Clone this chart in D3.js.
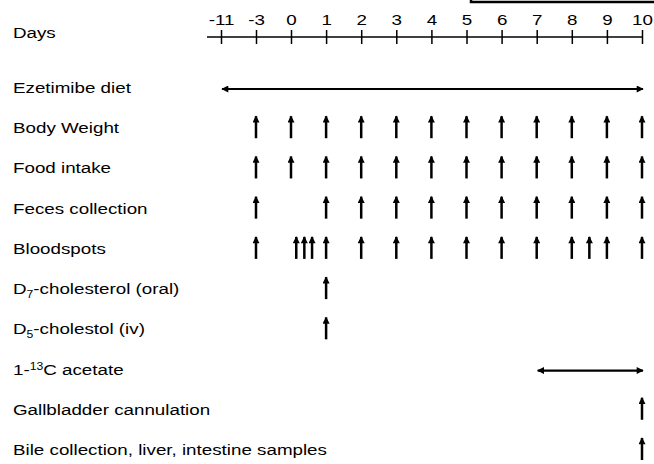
<!DOCTYPE html>
<html>
<head>
<meta charset="utf-8">
<script src="https://cdn.jsdelivr.net/npm/d3@7"></script>
<style>
  body { margin: 0; background: #fff; }
  svg { display: block; }
</style>
</head>
<body>
<div id="container"></div>
<script>
/* Jours affichés sur l'axe */
const days = [-11, -3, 0, 1, 2, 3, 4, 5, 6, 7, 8, 9, 10];

/* Libellés des lignes */
const rowLabels = ["Ezetimibe diet", "Body Weight", "Food intake", "Feces collection", "Bloodspots",
  "D7-cholesterol (oral)", "D5-cholestol (iv)", "1-13C acetate", "Gallbladder cannulation",
  "Bile collection, liver, intestine samples"];

/* Jours avec une flèche par ligne */
const bodyWeightDays = [-3, 0, 1, 2, 3, 4, 5, 6, 7, 8, 9, 10];
const foodIntakeDays = [-3, 0, 1, 2, 3, 4, 5, 6, 7, 8, 9, 10];
const fecesDays = [-3, 1, 2, 3, 4, 5, 6, 7, 8, 9, 10];
const bloodspotDays = [-3, 0.15, 0.38, 0.6, 1, 2, 3, 4, 5, 6, 7, 8, 8.5, 9, 10];
const d7Days = [1];
const d5Days = [1];
const gallbladderDays = [10];
const bileDays = [10];

/* Périodes (flèches doubles) */
const ezetimibeSpan = [-11, 10];
const acetateSpan = [7, 10];

const width = 654, height = 464,
  fontPolice = "'Liberation Sans', Arial, sans-serif",
  fontSize = 15.4,
  /* l'image d'origine est étirée en largeur */
  stretch = "scale(1.22,1)",
  axisY = 37;

const svg = d3.select("#container").append("svg")
  .attr("width", width)
  .attr("height", height);

/* Marqueur des pointes de flèches */
const defs = svg.append("defs");
defs.append("marker")
  .attr("id", "head")
  .attr("viewBox", "0 0 10 10")
  .attr("refX", 9).attr("refY", 5)
  .attr("markerUnits", "userSpaceOnUse")
  .attr("markerWidth", 8).attr("markerHeight", 7)
  .attr("orient", "auto-start-reverse")
  .append("path").attr("d", "M0,0 L10,5 L0,10 Z").attr("fill", "#000");

/* Échelle x par morceaux : les jours ne sont pas espacés régulièrement */
const x = d3.scaleLinear()
  .domain([-11, -3, 0, 10])
  .range([221, 256, 291, 642]);

const y = d3.scalePoint()
  .domain(rowLabels)
  .range([88, 450]);

/* Cadre coupé en haut à droite */
svg.append("rect")
  .attr("x", 471).attr("y", -20)
  .attr("width", 200).attr("height", 22)
  .attr("fill", "none").attr("stroke", "#000").attr("stroke-width", 2.5);

/* Axe des jours */
svg.append("text")
  .attr("transform", "translate(13," + (axisY + 1) + ")" + stretch)
  .style("font-family", fontPolice).style("font-size", fontSize + "px")
  .text("Days");

const axis = svg.append("g")
  .attr("transform", "translate(0," + axisY + ")")
  .call(d3.axisTop(x).tickValues(days).tickFormat(function (d) { return String(d); }).tickSizeOuter(0));
axis.select(".domain").remove();
axis.append("line")
  .attr("x1", 207).attr("x2", x(10))
  .attr("stroke", "#000").attr("stroke-width", 1.5);
axis.selectAll(".tick line").attr("y1", -7).attr("y2", 7).attr("stroke-width", 1.5);
axis.selectAll(".tick text")
  .attr("y", -12)
  .attr("dy", 0)
  .attr("transform", stretch)
  .attr("fill", "#000")
  .style("font-family", fontPolice).style("font-size", fontSize + "px");

/* Libellés des lignes */
const labels = svg.append("g")
  .style("font-family", fontPolice).style("font-size", fontSize + "px");

function addLabel(label, parts) {
  const t = labels.append("text")
    .attr("transform", "translate(13," + (y(label) + 5) + ")" + stretch);
  parts.forEach(function (p) {
    const s = t.append("tspan").text(p[0]);
    if (p[1] === "sub") s.attr("dy", 4).style("font-size", "10px");
    if (p[1] === "sup") s.attr("dy", -5).style("font-size", "10px");
    if (p[1] === "back") s.attr("dy", p[2]);
  });
}
rowLabels.forEach(function (l) {
  if (l === "D7-cholesterol (oral)") addLabel(l, [["D"], ["7", "sub"], ["-cholesterol (oral)", "back", -4]]);
  else if (l === "D5-cholestol (iv)") addLabel(l, [["D"], ["5", "sub"], ["-cholestol (iv)", "back", -4]]);
  else if (l === "1-13C acetate") addLabel(l, [["1-"], ["13", "sup"], ["C acetate", "back", 5]]);
  else addLabel(l, [[l]]);
});

/* Flèches doubles */
function span(label, s) {
  svg.append("line")
    .attr("x1", x(s[0]) + 1).attr("x2", x(s[1]) + 1)
    .attr("y1", y(label) + 1).attr("y2", y(label) + 1)
    .attr("stroke", "#000").attr("stroke-width", 2.2)
    .attr("marker-start", "url(#head)")
    .attr("marker-end", "url(#head)");
}
span("Ezetimibe diet", ezetimibeSpan);
span("1-13C acetate", acetateSpan);

/* Flèches vers le haut */
function ups(label, data) {
  svg.append("g").selectAll("line")
    .data(data)
    .enter().append("line")
      .attr("x1", function (d) { return x(d); })
      .attr("x2", function (d) { return x(d); })
      .attr("y1", y(label) + 10)
      .attr("y2", y(label) - 12)
      .attr("stroke", "#000").attr("stroke-width", 2.5)
      .attr("marker-end", "url(#head)");
}
ups("Body Weight", bodyWeightDays);
ups("Food intake", foodIntakeDays);
ups("Feces collection", fecesDays);
ups("Bloodspots", bloodspotDays);
ups("D7-cholesterol (oral)", d7Days);
ups("D5-cholestol (iv)", d5Days);
ups("Gallbladder cannulation", gallbladderDays);
ups("Bile collection, liver, intestine samples", bileDays);
</script>
</body>
</html>
